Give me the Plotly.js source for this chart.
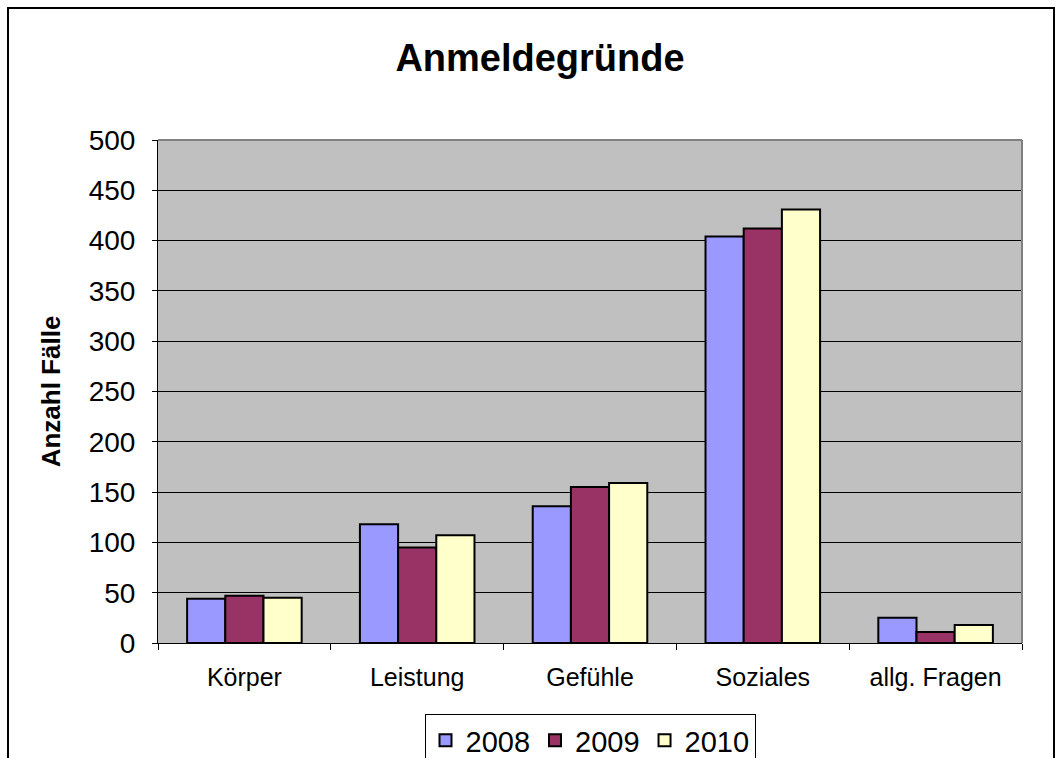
<!DOCTYPE html>
<html>
<head>
<meta charset="utf-8">
<script src="https://cdn.plot.ly/plotly-3.0.1.min.js"></script>
<style>
  html, body { margin: 0; padding: 0; background: #fff; }
  #wrap { position: relative; width: 1060px; height: 758px; overflow: hidden; }
  #chart { position: absolute; left: 0; top: 0; width: 1060px; height: 758px; }
  #frame { position: absolute; left: 7px; top: 7px; width: 1044px; height: 800px;
           border: 2px solid #000; pointer-events: none; }
</style>
</head>
<body>
<div id="wrap">
  <div id="chart"></div>
  <div id="frame"></div>
</div>
<script>
const categories = ["Körper", "Leistung", "Gefühle", "Soziales", "allg. Fragen"];
const years = ["2008", "2009", "2010"];
const values2008 = [44, 118, 136, 404, 25];
const values2009 = [47, 95, 155, 412, 11];
const values2010 = [45, 107, 159, 431, 18];
const yTicks = [0, 50, 100, 150, 200, 250, 300, 350, 400, 450, 500];

const colors = ["#9999FF", "#993366", "#FFFFCC"];
const series = [values2008, values2009, values2010];

const font = "Liberation Sans, Arial, sans-serif";

const traces = series.map((vals, i) => ({
  type: "bar",
  name: years[i],
  x: categories,
  y: vals,
  marker: { color: colors[i], line: { color: "#000", width: 2 } },
  hoverinfo: "x+y+name"
}));

const layout = {
  width: 1060,
  height: 758,
  margin: { l: 158, r: 38, t: 140, b: 115 },
  paper_bgcolor: "#fff",
  plot_bgcolor: "#C0C0C0",
  font: { family: font, color: "#000" },
  title: {
    text: "<b>Anmeldegründe</b>",
    font: { family: font, size: 38, color: "#000" },
    x: 540 / 1060, xref: "container", xanchor: "center",
    y: 1 - 58 / 758, yref: "container", yanchor: "middle"
  },
  barmode: "group",
  bargap: 0.337,
  bargroupgap: 0,
  xaxis: {
    type: "category",
    showgrid: false,
    showline: true, linecolor: "#000", linewidth: 1,
    ticks: "outside", tickson: "boundaries", ticklen: 6, tickcolor: "#000", tickwidth: 1,
    tickfont: { family: font, size: 25, color: "#000" },
    ticklabelstandoff: 12,
    zeroline: false
  },
  yaxis: {
    range: [0, 500],
    tickvals: yTicks,
    ticktext: yTicks.map(String),
    showgrid: true, gridcolor: "#000", gridwidth: 1,
    showline: true, linecolor: "#000", linewidth: 1,
    ticks: "outside", ticklen: 5, tickcolor: "#000", tickwidth: 1,
    tickfont: { family: font, size: 28, color: "#000" },
    ticklabelstandoff: 11,
    zeroline: false,
    title: {
      text: "<b>Anzahl Fälle</b>",
      font: { family: font, size: 26, color: "#000" },
      standoff: 20
    }
  },
  shapes: [
    { type: "line", xref: "paper", yref: "paper", x0: 0, x1: 1, y0: 1, y1: 1,
      line: { color: "#808080", width: 2 }, layer: "below" },
    { type: "line", xref: "paper", yref: "paper", x0: 1, x1: 1, y0: 0, y1: 1,
      line: { color: "#808080", width: 2 }, layer: "above" }
  ],
  showlegend: true,
  legend: {
    orientation: "h",
    x: 0.5, xanchor: "center", xref: "paper",
    y: 1 - 714 / 758, yanchor: "top", yref: "container",
    bordercolor: "#000", borderwidth: 1, bgcolor: "#fff",
    font: { family: font, size: 29, color: "#000" },
    itemwidth: 30,
    traceorder: "normal"
  }
};

Plotly.newPlot("chart", traces, layout, { displayModeBar: false, staticPlot: true });
</script>
</body>
</html>
